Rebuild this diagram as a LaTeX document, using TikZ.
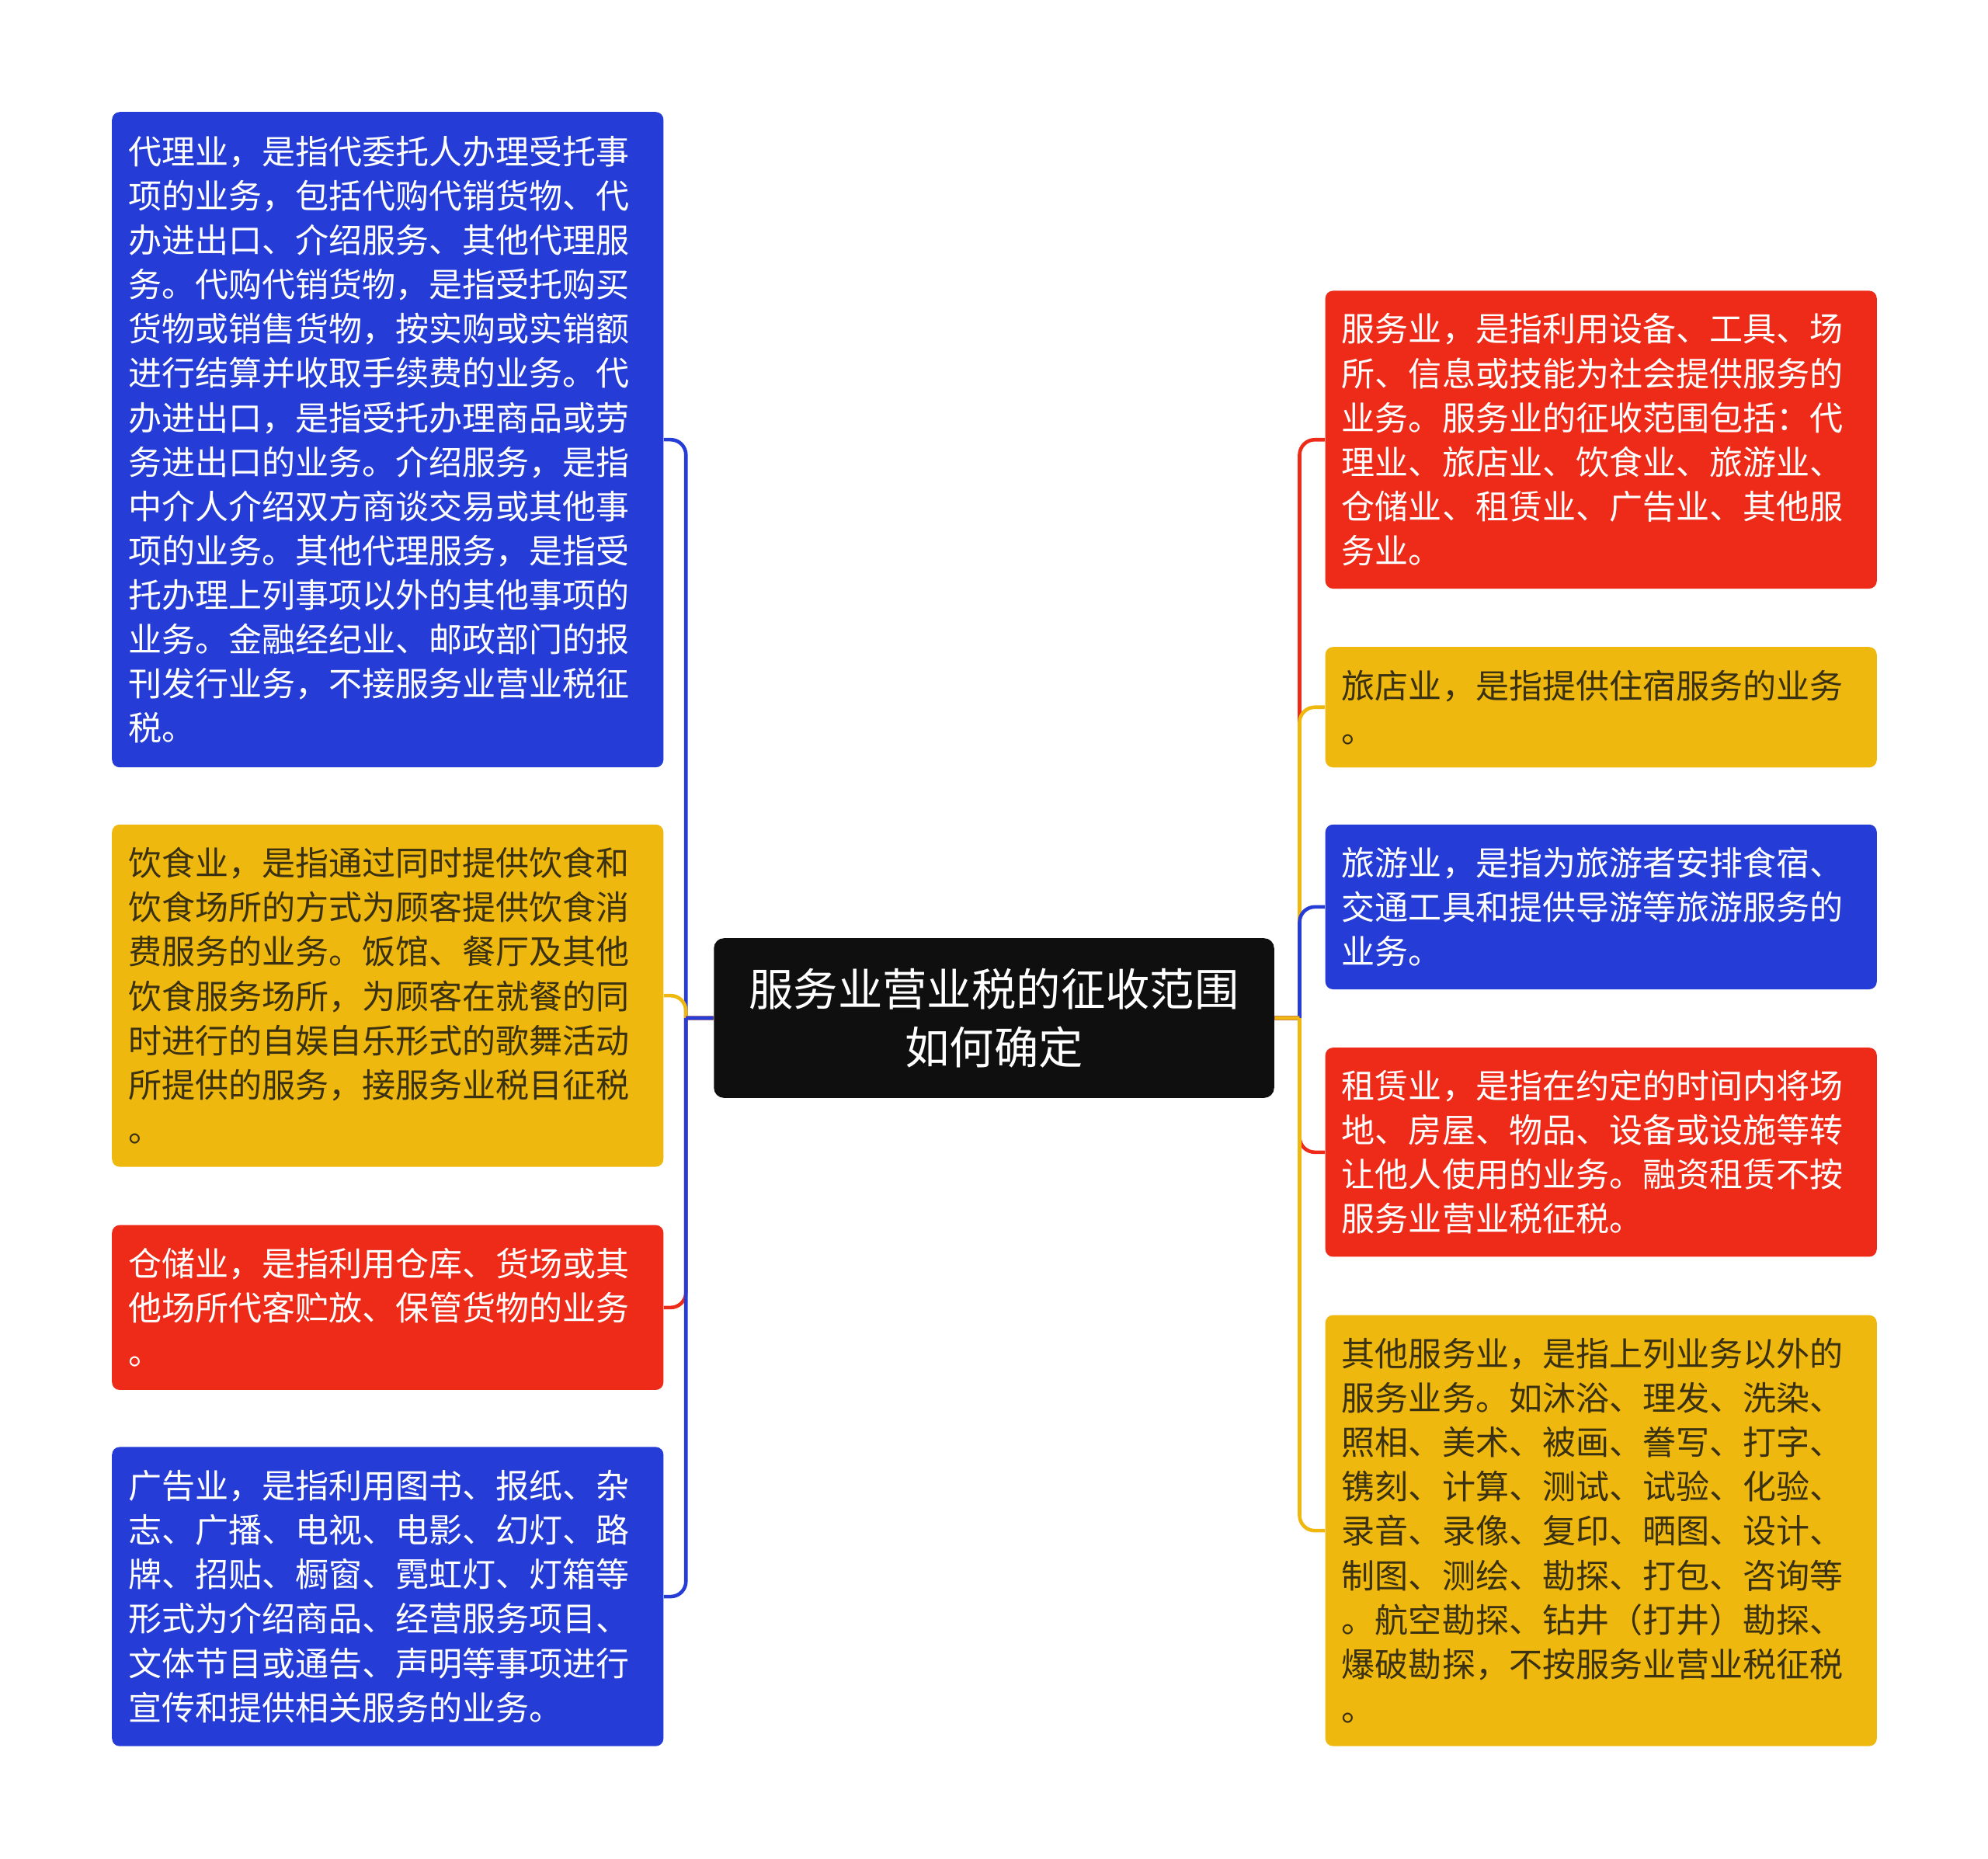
\documentclass[tikz,border=0pt]{standalone}
\usepackage{fontspec}
\setmainfont{Noto Sans CJK SC}
\usepackage{xcolor}
\usepackage{tikz}
\usetikzlibrary{positioning,calc}
\definecolor{MapBlue}{RGB}{37,60,214}
\definecolor{MapRed}{RGB}{238,42,24}
\definecolor{MapYellow}{RGB}{239,184,14}
\definecolor{MapInk}{RGB}{58,48,18}
\definecolor{HubBlack}{RGB}{15,15,15}
\tikzset{
    topicbox/.style={rectangle, rounded corners=0.12cm, anchor=north west, minimum width=8.7cm, text width=8.18cm, inner xsep=0.26cm, inner ysep=0pt, align=left, text=white, font=\fontsize{15pt}{19.9pt}\selectfont},
    branch/.style={line width=1.6pt}
}

\begin{document}
\begin{tikzpicture}[
        x=0.02cm, y=-0.02cm,
        % Nút trung tâm: nền đen, chữ trắng
        hubnode/.style={
            rectangle,
            rounded corners=0.16cm,
            fill=HubBlack,
            text=white,
            font=\fontsize{20pt}{26pt}\selectfont,
            minimum width=8.84cm,
            minimum height=2.52cm,
            align=center
        }
    ]
        % --- KHUNG ---
        \fill[white] (0,0) rectangle (1568,1466);
        \useasboundingbox (0,0) rectangle (1568,1466);

        % --- NÚT TRUNG TÂM ---
        \node[hubnode] (hub) at (784,803) {服务业营业税的征收范围\\如何确定};
        \coordinate (ltrunk) at (541,803);
        \coordinate (rtrunk) at (1025,803);

        % --- NHÁNH TRÁI ---
        \node[topicbox, fill=MapBlue, minimum height=10.34cm] (agency) at (88,88) {代理业，是指代委托人办理受托事\\
项的业务，包括代购代销货物、代\\
办进出口、介绍服务、其他代理服\\
务。代购代销货物，是指受托购买\\
货物或销售货物，按实购或实销额\\
进行结算并收取手续费的业务。代\\
办进出口，是指受托办理商品或劳\\
务进出口的业务。介绍服务，是指\\
中介人介绍双方商谈交易或其他事\\
项的业务。其他代理服务，是指受\\
托办理上列事项以外的其他事项的\\
业务。金融经纪业、邮政部门的报\\
刊发行业务，不接服务业营业税征\\
税。};
        \node[topicbox, fill=MapYellow, text=MapInk, minimum height=5.4cm] (catering) at (88,650) {饮食业，是指通过同时提供饮食和\\
饮食场所的方式为顾客提供饮食消\\
费服务的业务。饭馆、餐厅及其他\\
饮食服务场所，为顾客在就餐的同\\
时进行的自娱自乐形式的歌舞活动\\
所提供的服务，接服务业税目征税\\
。};
        \node[topicbox, fill=MapRed, minimum height=2.6cm] (storage) at (88,966) {仓储业，是指利用仓库、货场或其\\
他场所代客贮放、保管货物的业务\\
。};
        \node[topicbox, fill=MapBlue, minimum height=4.72cm] (advert) at (88,1141) {广告业，是指利用图书、报纸、杂\\
志、广播、电视、电影、幻灯、路\\
牌、招贴、橱窗、霓虹灯、灯箱等\\
形式为介绍商品、经营服务项目、\\
文体节目或通告、声明等事项进行\\
宣传和提供相关服务的业务。};

        % --- NHÁNH PHẢI ---
        \node[topicbox, fill=MapRed, minimum height=4.7cm] (service) at (1045,229) {服务业，是指利用设备、工具、场\\
所、信息或技能为社会提供服务的\\
业务。服务业的征收范围包括：代\\
理业、旅店业、饮食业、旅游业、\\
仓储业、租赁业、广告业、其他服\\
务业。};
        \node[topicbox, fill=MapYellow, text=MapInk, minimum height=1.9cm] (hotel) at (1045,510) {旅店业，是指提供住宿服务的业务\\
。};
        \node[topicbox, fill=MapBlue, minimum height=2.6cm] (tourism) at (1045,650) {旅游业，是指为旅游者安排食宿、\\
交通工具和提供导游等旅游服务的\\
业务。};
        \node[topicbox, fill=MapRed, minimum height=3.3cm] (leasing) at (1045,826) {租赁业，是指在约定的时间内将场\\
地、房屋、物品、设备或设施等转\\
让他人使用的业务。融资租赁不按\\
服务业营业税征税。};
        \node[topicbox, fill=MapYellow, text=MapInk, minimum height=6.8cm] (otherserv) at (1045,1037) {其他服务业，是指上列业务以外的\\
服务业务。如沐浴、理发、洗染、\\
照相、美术、被画、誊写、打字、\\
镌刻、计算、测试、试验、化验、\\
录音、录像、复印、晒图、设计、\\
制图、测绘、勘探、打包、咨询等\\
。航空勘探、钻井（打井）勘探、\\
爆破勘探，不按服务业营业税征税\\
。};

        % --- ĐƯỜNG NỐI ---
        \draw[branch, MapBlue] (hub.west) -- (ltrunk) (ltrunk) [rounded corners=0.24cm] |- (agency.east);
        \draw[branch, MapYellow] (hub.west) -- (ltrunk) (ltrunk) [rounded corners=0.24cm] |- (catering.east);
        \draw[branch, MapRed] (hub.west) -- (ltrunk) (ltrunk) [rounded corners=0.24cm] |- (storage.east);
        \draw[branch, MapBlue] (hub.west) -- (ltrunk) (ltrunk) [rounded corners=0.24cm] |- (advert.east);

        \draw[branch, MapRed] (hub.east) -- (rtrunk) (rtrunk) [rounded corners=0.24cm] |- (service.west);
        \draw[branch, MapYellow] (hub.east) -- (rtrunk) (rtrunk) [rounded corners=0.24cm] |- (hotel.west);
        \draw[branch, MapBlue] (hub.east) -- (rtrunk) (rtrunk) [rounded corners=0.24cm] |- (tourism.west);
        \draw[branch, MapRed] (hub.east) -- (rtrunk) (rtrunk) [rounded corners=0.24cm] |- (leasing.west);
        \draw[branch, MapYellow] (hub.east) -- (rtrunk) (rtrunk) [rounded corners=0.24cm] |- (otherserv.west);
    \end{tikzpicture}
\end{document}
